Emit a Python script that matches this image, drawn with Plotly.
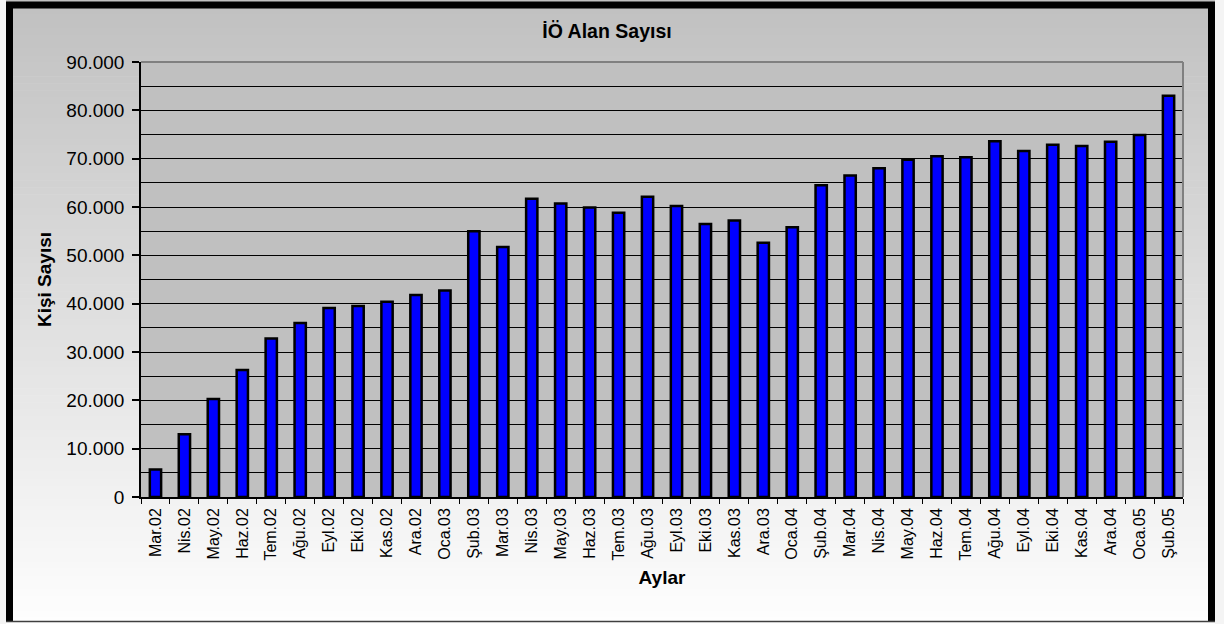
import plotly.graph_objects as go

# ---------------- data ----------------
months = ["Mar.02", "Nis.02", "May.02", "Haz.02", "Tem.02", "Ağu.02", "Eyl.02", "Eki.02",
          "Kas.02", "Ara.02", "Oca.03", "Şub.03", "Mar.03", "Nis.03", "May.03", "Haz.03",
          "Tem.03", "Ağu.03", "Eyl.03", "Eki.03", "Kas.03", "Ara.03", "Oca.04", "Şub.04",
          "Mar.04", "Nis.04", "May.04", "Haz.04", "Tem.04", "Ağu.04", "Eyl.04", "Eki.04",
          "Kas.04", "Ara.04", "Oca.05", "Şub.05"]
people = [5700, 13000, 20300, 26300, 32800, 36000, 39100, 39500,
          40400, 41800, 42700, 55000, 51700, 61700, 60700, 59900,
          58800, 62100, 60200, 56500, 57200, 52600, 55800, 64500,
          66500, 68000, 69800, 70500, 70300, 73600, 71600, 72900,
          72600, 73500, 74900, 83000]

chart_title = "İÖ Alan Sayısı"
x_title = "Aylar"
y_title = "Kişi Sayısı"

# ---------------- layout geometry ----------------
W, H = 1224, 624
ML, MR, MT, MB = 141, 41, 62, 127
PW, PH = W - ML - MR, H - MT - MB


def px_x(x):
    return (x - ML) / PW


def px_y(y):
    return (H - MB - y) / PH


fig = go.Figure(
    go.Bar(
        x=months,
        y=people,
        width=0.39,
        marker=dict(color="#0000FF", line=dict(color="#000000", width=2.5)),
    )
)

shapes = []
# paper background: vertical gradient gray -> white (inside frame)
N = 90
top_c, bot_c = 192, 254
for i in range(N):
    y0 = H * i / N
    y1 = H * (i + 1) / N + 0.6
    c = round(top_c + (bot_c - top_c) * (i + 0.5) / N)
    shapes.append(dict(type="rect", xref="paper", yref="paper",
                       x0=px_x(6), x1=px_x(1215), y0=px_y(y0), y1=px_y(y1),
                       fillcolor=f"rgb({c},{c},{c})", line=dict(width=0), layer="below"))
# plot area background
shapes.append(dict(type="rect", xref="x domain", yref="y domain", x0=0, x1=1, y0=0, y1=1,
                   fillcolor="#C0C0C0", line=dict(width=0), layer="below"))
# plot area top/right gray border
shapes.append(dict(type="line", xref="x domain", yref="y domain", x0=0, x1=1, y0=1, y1=1,
                   line=dict(color="#808080", width=2), layer="above"))
shapes.append(dict(type="line", xref="x domain", yref="y domain", x0=1, x1=1, y0=0, y1=1,
                   line=dict(color="#808080", width=2), layer="above"))
# outer chart frame
shapes.append(dict(type="line", xref="paper", yref="paper", x0=px_x(9.5), x1=px_x(9.5),
                   y0=px_y(2), y1=px_y(622), line=dict(color="#000000", width=7), layer="above"))
shapes.append(dict(type="line", xref="paper", yref="paper", x0=px_x(1211.5), x1=px_x(1211.5),
                   y0=px_y(2), y1=px_y(622), line=dict(color="#000000", width=7), layer="above"))
shapes.append(dict(type="line", xref="paper", yref="paper", x0=px_x(6), x1=px_x(1215),
                   y0=px_y(5), y1=px_y(5), line=dict(color="#000000", width=7), layer="above"))
shapes.append(dict(type="line", xref="paper", yref="paper", x0=px_x(6), x1=px_x(1215),
                   y0=px_y(621.5), y1=px_y(621.5), line=dict(color="#404040", width=1.5), layer="above"))

fig.update_layout(
    width=W, height=H,
    margin=dict(l=ML, r=MR, t=MT, b=MB, autoexpand=False),
    paper_bgcolor="#F4F4F4",
    plot_bgcolor="rgba(0,0,0,0)",
    separators=",.",
    font=dict(family="Liberation Sans, Arial, sans-serif", color="#000000"),
    showlegend=False,
    title=dict(text=f"<b>{chart_title}</b>", x=607 / W, xanchor="center",
               y=1 - 31 / H, yanchor="middle", font=dict(size=19.5)),
    shapes=shapes,
    bargap=0.6,
)

fig.update_yaxes(
    range=[0, 90000], tick0=0, dtick=10000, tickformat=",d",
    showgrid=True, gridcolor="#000000", gridwidth=1,
    minor=dict(dtick=5000, showgrid=True, gridcolor="#000000", gridwidth=1, ticks=""),
    showline=True, linecolor="#000000", linewidth=1.5,
    ticks="outside", ticklen=7, tickcolor="#000000", tickwidth=1.5,
    tickfont=dict(size=19), ticklabelstandoff=4, zeroline=False,
    title=dict(text=f"<b>{y_title}</b>", font=dict(size=19), standoff=10),
)
fig.update_xaxes(
    type="category", range=[-0.5, len(months) - 0.5], tickson="boundaries",
    ticks="outside", ticklen=5, tickcolor="#000000", tickwidth=1.2,
    tickangle=-90, tickfont=dict(size=16), ticklabelstandoff=3,
    showline=True, linecolor="#000000", linewidth=1.5, showgrid=False,
    title=dict(text=f"<b>{x_title}</b>", font=dict(size=19), standoff=11),
)

fig.write_html(
    "out.html",
    config={"displayModeBar": False},
    post_script="document.body.style.margin='0';document.body.style.padding='0';",
)
